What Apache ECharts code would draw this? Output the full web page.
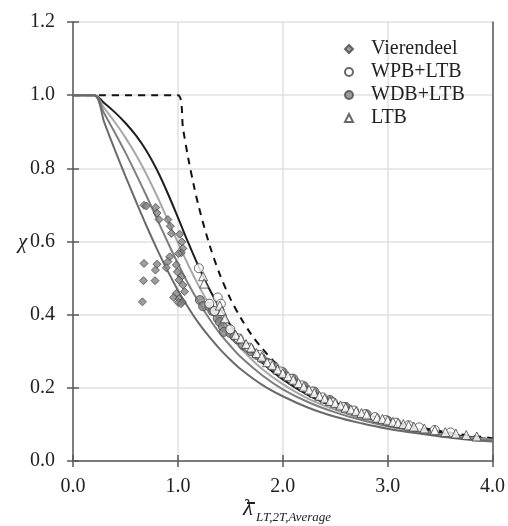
<!DOCTYPE html>
<html>
<head>
<meta charset="utf-8">
<script src="https://cdn.jsdelivr.net/npm/echarts@6/dist/echarts.min.js"></script>
<style>html,body{margin:0;padding:0;background:#fff;}#c{width:508px;height:526px;}</style>
</head>
<body>
<div id="c"></div>
<script>
// ---- data ----
const xTicks = [0, 1, 2, 3, 4];
const yTicks = [0, 0.2, 0.4, 0.6, 0.8, 1.0, 1.2];

const curveX = [0, 0.2, 0.3, 0.4, 0.5, 0.6, 0.7, 0.8, 0.9, 1.0, 1.1, 1.2, 1.3, 1.4, 1.5, 1.6, 1.8, 2.0, 2.25, 2.5, 2.75, 3.0, 3.25, 3.5, 3.75, 4.0];
const curveA = [1, 1, 0.978, 0.953, 0.924, 0.890, 0.848, 0.796, 0.734, 0.666, 0.596, 0.530, 0.470, 0.418, 0.372, 0.333, 0.270, 0.223, 0.179, 0.147, 0.122, 0.104, 0.089, 0.077, 0.067, 0.059];
const curveB = [1, 1, 0.964, 0.926, 0.884, 0.837, 0.784, 0.725, 0.661, 0.597, 0.535, 0.478, 0.427, 0.382, 0.342, 0.308, 0.252, 0.210, 0.169, 0.140, 0.117, 0.099, 0.086, 0.074, 0.065, 0.058];
const curveC = [1, 1, 0.949, 0.897, 0.843, 0.785, 0.725, 0.662, 0.600, 0.540, 0.484, 0.434, 0.389, 0.349, 0.315, 0.284, 0.235, 0.196, 0.160, 0.133, 0.112, 0.095, 0.082, 0.072, 0.063, 0.056];
const curveD = [1, 1, 0.924, 0.850, 0.779, 0.710, 0.643, 0.580, 0.521, 0.467, 0.419, 0.376, 0.339, 0.306, 0.277, 0.251, 0.209, 0.177, 0.145, 0.121, 0.103, 0.088, 0.077, 0.067, 0.059, 0.053];

const eulerX = [0, 1.0, 1.05, 1.1, 1.15, 1.2, 1.3, 1.4, 1.5, 1.6, 1.7, 1.8, 1.9, 2.0, 2.25, 2.5, 2.75, 3.0, 3.25, 3.5, 3.75, 4.0];
const eulerY = [1, 1, 0.907, 0.826, 0.756, 0.694, 0.592, 0.510, 0.444, 0.391, 0.346, 0.309, 0.277, 0.250, 0.198, 0.160, 0.132, 0.111, 0.095, 0.082, 0.071, 0.0625];

const vierX = [0.677, 0.700, 0.789, 0.801, 0.820, 0.905, 0.928, 0.938, 1.017, 1.038, 1.048, 1.033, 1.007, 0.922, 0.905, 0.890, 0.985, 0.995, 1.033, 1.010, 1.048, 1.064, 0.985, 0.960, 1.010, 1.042, 1.004, 0.677, 0.801, 0.786, 0.672, 0.782, 0.662, 1.030];
const vierY = [0.699, 0.697, 0.693, 0.678, 0.660, 0.660, 0.642, 0.622, 0.620, 0.599, 0.581, 0.569, 0.567, 0.558, 0.545, 0.528, 0.536, 0.517, 0.504, 0.495, 0.481, 0.463, 0.458, 0.447, 0.443, 0.435, 0.433, 0.540, 0.538, 0.522, 0.493, 0.493, 0.435, 0.430];

const wpbX = [1.20, 1.38, 1.41, 1.30, 1.35, 1.50, 1.58, 1.68, 1.78, 1.88, 1.98, 2.08, 2.18, 2.28, 2.38, 2.48, 2.58, 2.68, 2.78, 2.88, 2.98, 3.08, 3.20, 3.30, 3.45, 3.60];
const wpbY = [0.527, 0.447, 0.430, 0.430, 0.410, 0.360, 0.335, 0.310, 0.290, 0.265, 0.245, 0.225, 0.207, 0.190, 0.174, 0.160, 0.148, 0.138, 0.128, 0.120, 0.112, 0.105, 0.098, 0.092, 0.085, 0.078];

const wdbX = [1.21, 1.24, 1.30, 1.33, 1.35, 1.38, 1.40, 1.43, 1.44, 1.50, 1.54, 1.57, 1.62, 1.66, 1.70, 1.75, 1.80, 1.86, 1.92, 2.00, 2.10, 2.20, 2.30, 2.45, 2.60, 2.80, 3.00];
const wdbY = [0.440, 0.423, 0.422, 0.410, 0.408, 0.390, 0.380, 0.367, 0.353, 0.350, 0.340, 0.332, 0.317, 0.310, 0.300, 0.290, 0.280, 0.268, 0.258, 0.243, 0.225, 0.205, 0.190, 0.167, 0.148, 0.128, 0.110];

const ltbX = [1.24, 1.25, 1.40, 1.42, 1.45, 1.55, 1.60, 1.65, 1.70, 1.75, 1.80, 1.85, 1.90, 1.95, 2.00, 2.05, 2.10, 2.15, 2.20, 2.25, 2.30, 2.35, 2.40, 2.45, 2.50, 2.55, 2.60, 2.65, 2.70, 2.75, 2.80, 2.90, 2.95, 3.00, 3.05, 3.10, 3.15, 3.20, 3.25, 3.35, 3.45, 3.55, 3.65, 3.75, 3.85];
const ltbY = [0.505, 0.485, 0.425, 0.410, 0.390, 0.345, 0.335, 0.320, 0.310, 0.295, 0.285, 0.270, 0.262, 0.250, 0.240, 0.232, 0.222, 0.213, 0.203, 0.195, 0.186, 0.178, 0.171, 0.164, 0.158, 0.152, 0.146, 0.141, 0.136, 0.131, 0.127, 0.118, 0.115, 0.111, 0.107, 0.104, 0.101, 0.097, 0.094, 0.089, 0.084, 0.079, 0.075, 0.071, 0.067];

// ---- chart ----
const zip = (xs, ys) => xs.map((x, i) => [x, ys[i]]);
const FONT = '"Liberation Serif", "Times New Roman", serif';
const chart = echarts.init(document.getElementById('c'), null, {renderer: 'canvas'});

function lineSeries(name, ys, color, width) {
  return {
    name: name, type: 'line', data: zip(curveX, ys), smooth: 0.35,
    symbol: 'none', lineStyle: {color: color, width: width}, z: 2, silent: true
  };
}

const axisCommon = {
  type: 'value', min: 0,
  axisLine: {show: true, lineStyle: {color: '#5a5a5a', width: 1.5}},
  axisTick: {show: true, length: 6, lineStyle: {color: '#5a5a5a', width: 1.5}},
  axisLabel: {color: '#222', fontFamily: FONT, fontSize: 20, formatter: v => v.toFixed(1)},
  splitLine: {show: true, lineStyle: {color: '#e0e0e0', width: 1.5}}
};

chart.setOption({
  animation: false,
  backgroundColor: '#fff',
  grid: {left: 73, right: 14, top: 22, bottom: 65},
  xAxis: [
    Object.assign({}, axisCommon, {max: 4, interval: 1, axisLabel: Object.assign({}, axisCommon.axisLabel, {margin: 16})}),
    {type: 'value', min: 0, max: 4, interval: 1, position: 'bottom', axisLine: {show: false},
     axisTick: {show: true, inside: true, length: 6, lineStyle: {color: '#5a5a5a', width: 1.5}},
     axisLabel: {show: false}, splitLine: {show: false}}
  ],
  yAxis: [
    Object.assign({}, axisCommon, {max: 1.2, interval: 0.2, axisLabel: Object.assign({}, axisCommon.axisLabel, {margin: 18})}),
    {type: 'value', min: 0, max: 1.2, interval: 0.2, position: 'left', axisLine: {show: false},
     axisTick: {show: true, inside: true, length: 6, lineStyle: {color: '#5a5a5a', width: 1.5}},
     axisLabel: {show: false}, splitLine: {show: false}},
    {type: 'value', min: 0, max: 1.2, interval: 0.2, position: 'right',
     axisLine: {show: true, lineStyle: {color: '#5a5a5a', width: 1.5}},
     axisTick: {show: false}, axisLabel: {show: false}, splitLine: {show: false}}
  ],
  legend: {
    orient: 'vertical', left: 339, top: 34, itemWidth: 8, itemHeight: 8, itemGap: 3,
    data: ['Vierendeel', 'WPB+LTB', 'WDB+LTB', 'LTB'],
    textStyle: {fontFamily: FONT, fontSize: 20, color: '#222', lineHeight: 20, padding: [0, 0, 0, 13]}
  },
  graphic: [
    {type: 'text', left: 18, top: 232, style: {text: 'χ', font: 'italic 21px ' + FONT, fill: '#222'}},
    {type: 'text', left: 243, top: 497, style: {text: 'λ', font: 'italic 23px ' + FONT, fill: '#222'}},
    {type: 'line', shape: {x1: 247, y1: 503, x2: 255, y2: 503}, style: {stroke: '#222', lineWidth: 2}},
    {type: 'text', left: 256, top: 511, style: {text: 'LT,2T,Average', font: 'italic 13px ' + FONT, fill: '#222'}}
  ],
  series: [
    {name: 'Euler', type: 'line', data: zip(eulerX, eulerY), smooth: 0.3, symbol: 'none',
     lineStyle: {color: '#111', width: 2, type: [7, 6]}, z: 1, silent: true},
    lineSeries('a', curveA, '#1e1e1e', 2),
    lineSeries('b', curveB, '#a8a8a8', 2),
    lineSeries('c', curveC, '#7e7e7e', 2),
    lineSeries('d', curveD, '#6a6a6a', 2),
    {name: 'Vierendeel', type: 'scatter', data: zip(vierX, vierY), symbol: 'diamond', symbolSize: 8,
     itemStyle: {color: '#858585', borderColor: '#4a4a4a', borderWidth: 1}, z: 5},
    {name: 'WDB+LTB', type: 'scatter', data: zip(wdbX, wdbY), symbol: 'circle', symbolSize: 9,
     itemStyle: {color: '#858585', borderColor: '#4a4a4a', borderWidth: 1}, z: 5},
    {name: 'WPB+LTB', type: 'scatter', data: zip(wpbX, wpbY), symbol: 'circle', symbolSize: 9,
     itemStyle: {color: '#ffffff', borderColor: '#444', borderWidth: 1}, z: 6},
    {name: 'LTB', type: 'scatter', data: zip(ltbX, ltbY), symbol: 'triangle', symbolSize: 9,
     itemStyle: {color: '#ffffff', borderColor: '#444', borderWidth: 1}, z: 6}
  ]
});
</script>
</body>
</html>
